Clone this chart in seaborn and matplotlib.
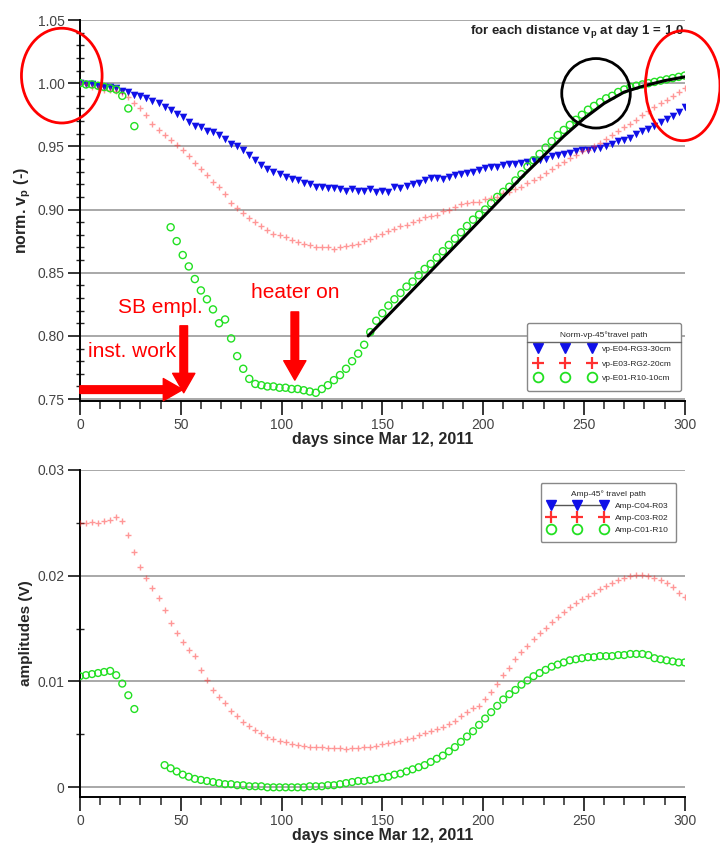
import numpy as np
import pandas as pd
import seaborn as sns
import matplotlib
matplotlib.use("Agg")
import matplotlib.pyplot as plt
from matplotlib.lines import Line2D
from matplotlib.patches import Ellipse
from matplotlib.ticker import MultipleLocator, FormatStrFormatter, FuncFormatter

nan = np.nan

# days sampled every 3 days (0 ... 300)
days = list(range(0, 301, 3))

# normalised vp, top panel
vp_e04 = [1.000, 0.999, 0.999, 0.998, 0.997, 0.997, 0.996, 0.994, 0.993, 0.991,
          0.990, 0.988, 0.986, 0.984, 0.981, 0.979, 0.976, 0.973, 0.969, 0.966,
          0.965, 0.962, 0.961, 0.959, 0.956, 0.952, 0.950, 0.947, 0.943, 0.939,
          0.935, 0.932, 0.930, 0.928, 0.926, 0.924, 0.923, 0.921, 0.920, 0.918,
          0.918, 0.917, 0.917, 0.916, 0.915, 0.916, 0.915, 0.915, 0.916, 0.914,
          0.915, 0.914, 0.918, 0.917, 0.919, 0.920, 0.921, 0.923, 0.925, 0.925,
          0.924, 0.926, 0.927, 0.928, 0.929, 0.930, 0.931, 0.933, 0.934, 0.934,
          0.935, 0.936, 0.936, 0.937, 0.938, 0.939, 0.939, 0.940, 0.942, 0.943,
          0.944, 0.945, 0.946, 0.947, 0.947, 0.948, 0.949, 0.950, 0.952, 0.954,
          0.955, 0.957, 0.960, 0.962, 0.964, 0.966, 0.969, 0.972, 0.974, 0.977,
          0.981]
vp_e03 = [1.000, 0.999, 0.997, 0.996, 0.995, 0.995, 0.994, 0.992, 0.989, 0.984,
          0.980, 0.975, 0.968, 0.963, 0.959, 0.955, 0.951, 0.947, 0.942, 0.937,
          0.932, 0.927, 0.922, 0.918, 0.912, 0.905, 0.901, 0.897, 0.893, 0.890,
          0.887, 0.884, 0.881, 0.880, 0.878, 0.876, 0.874, 0.873, 0.872, 0.870,
          0.870, 0.870, 0.869, 0.870, 0.871, 0.872, 0.873, 0.875, 0.877, 0.879,
          0.881, 0.883, 0.885, 0.887, 0.888, 0.890, 0.892, 0.894, 0.895, 0.896,
          0.899, 0.900, 0.902, 0.904, 0.905, 0.906, 0.906, 0.908, 0.909, 0.910,
          0.913, 0.914, 0.916, 0.918, 0.921, 0.923, 0.926, 0.929, 0.932, 0.935,
          0.938, 0.941, 0.943, 0.946, 0.947, 0.950, 0.953, 0.956, 0.959, 0.962,
          0.965, 0.968, 0.971, 0.975, 0.978, 0.981, 0.984, 0.987, 0.990, 0.993,
          0.996]
vp_e01 = [1.000, 0.999, 0.999, 0.998, 0.997, 0.996, 0.995, 0.990, 0.980, 0.966,
          nan, nan, nan, nan, nan, 0.886, 0.875, 0.864, 0.855, 0.845,
          0.836, 0.829, 0.821, 0.810, 0.813, 0.798, 0.784, 0.774, 0.766, 0.762,
          0.761, 0.760, 0.760, 0.759, 0.759, 0.758, 0.758, 0.757, 0.756, 0.755,
          0.758, 0.761, 0.765, 0.769, 0.774, 0.780, 0.786, 0.793, 0.803, 0.812,
          0.818, 0.824, 0.829, 0.834, 0.839, 0.843, 0.848, 0.853, 0.857, 0.862,
          0.867, 0.872, 0.877, 0.882, 0.887, 0.892, 0.896, 0.900, 0.905, 0.910,
          0.914, 0.918, 0.923, 0.928, 0.934, 0.939, 0.944, 0.949, 0.954, 0.959,
          0.963, 0.967, 0.971, 0.975, 0.979, 0.982, 0.985, 0.988, 0.990, 0.993,
          0.995, 0.997, 0.998, 0.999, 1.000, 1.001, 1.002, 1.003, 1.004, 1.005,
          1.006]

# fitted trend (black line)
fit_days = [143, 160, 180, 200, 220, 240, 250, 260, 270, 280, 290, 300]
fit_vals = [0.800, 0.828, 0.861, 0.894, 0.927, 0.958, 0.972, 0.984, 0.993, 0.998, 1.002, 1.005]

# amplitudes, bottom panel
amp_c03 = [0.0250, 0.0250, 0.0251, 0.0250, 0.0252, 0.0253, 0.0255, 0.0252, 0.0238, 0.0222,
           0.0208, 0.0198, 0.0188, 0.0179, 0.0168, 0.0155, 0.0146, 0.0137, 0.0130, 0.0124,
           0.0111, 0.0101, 0.0092, 0.0085, 0.0080, 0.0072, 0.0067, 0.0062, 0.0058, 0.0054,
           0.0051, 0.0048, 0.0046, 0.0044, 0.0043, 0.0041, 0.0040, 0.0039, 0.0038, 0.0038,
           0.0038, 0.0037, 0.0037, 0.0037, 0.0036, 0.0037, 0.0037, 0.0038, 0.0038, 0.0039,
           0.0041, 0.0042, 0.0043, 0.0044, 0.0046, 0.0047, 0.0049, 0.0051, 0.0053, 0.0055,
           0.0057, 0.0060, 0.0063, 0.0067, 0.0071, 0.0075, 0.0077, 0.0083, 0.0090, 0.0098,
           0.0106, 0.0113, 0.0121, 0.0128, 0.0134, 0.0140, 0.0146, 0.0151, 0.0156, 0.0161,
           0.0166, 0.0170, 0.0174, 0.0178, 0.0181, 0.0184, 0.0187, 0.0190, 0.0193, 0.0196,
           0.0198, 0.0200, 0.0201, 0.0201, 0.0200, 0.0198, 0.0196, 0.0193, 0.0189, 0.0184,
           0.0180]
amp_c01 = [0.0105, 0.0106, 0.0107, 0.0108, 0.0109, 0.0110, 0.0106, 0.0098, 0.0087, 0.0074,
           nan, nan, nan, nan, 0.0021, 0.0018, 0.0015, 0.0012, 0.0010, 0.0008,
           0.0007, 0.0006, 0.0005, 0.0004, 0.0003, 0.0003, 0.0002, 0.0002, 0.0001, 0.0001,
           0.0001, 0.0000, 0.0000, 0.0000, 0.0000, 0.0000, 0.0000, 0.0000, 0.0001, 0.0001,
           0.0001, 0.0002, 0.0002, 0.0003, 0.0004, 0.0005, 0.0006, 0.0006, 0.0007, 0.0008,
           0.0009, 0.0010, 0.0012, 0.0013, 0.0015, 0.0017, 0.0019, 0.0021, 0.0024, 0.0027,
           0.0030, 0.0034, 0.0038, 0.0043, 0.0048, 0.0053, 0.0059, 0.0065, 0.0071, 0.0077,
           0.0083, 0.0088, 0.0092, 0.0097, 0.0101, 0.0105, 0.0108, 0.0111, 0.0114, 0.0116,
           0.0118, 0.0120, 0.0121, 0.0122, 0.0123, 0.0123, 0.0124, 0.0124, 0.0124, 0.0125,
           0.0125, 0.0126, 0.0126, 0.0126, 0.0125, 0.0122, 0.0121, 0.0120, 0.0119, 0.0118,
           0.0118]

top = pd.DataFrame({"day": days, "E04": vp_e04, "E03": vp_e03, "E01": vp_e01})
bot = pd.DataFrame({"day": days, "C03": amp_c03, "C01": amp_c01})
fit = pd.DataFrame({"day": fit_days, "vp": fit_vals})

BLUE = "#1010e8"
RED = "#ff3030"
GREEN = "#22e022"

sns.set_style("white")
plt.rcParams["font.family"] = ["Liberation Sans", "DejaVu Sans"]
plt.rcParams["mathtext.fontset"] = "custom"
plt.rcParams["mathtext.bf"] = "Liberation Sans:bold"
plt.rcParams["mathtext.rm"] = "Liberation Sans"

fig = plt.figure(figsize=(7.2, 8.55), dpi=100)
ax1 = fig.add_axes([0.111, 0.531, 0.840, 0.4456])
ax2 = fig.add_axes([0.111, 0.068, 0.840, 0.3825])


def style_axis(ax, ymajor, yminor):
    for s in ["top", "right"]:
        ax.spines[s].set_visible(False)
    for s in ["left", "bottom"]:
        ax.spines[s].set_color("black")
        ax.spines[s].set_linewidth(1.4)
    ax.xaxis.set_major_locator(MultipleLocator(50))
    ax.xaxis.set_minor_locator(MultipleLocator(10))
    ax.yaxis.set_major_locator(MultipleLocator(ymajor))
    ax.yaxis.set_minor_locator(MultipleLocator(yminor))
    ax.tick_params(axis="x", which="both", bottom=True)
    ax.tick_params(axis="y", which="both", left=True)
    ax.tick_params(axis="x", which="major", direction="out", length=10, width=1.3,
                   labelsize=10, labelcolor="#444", pad=2)
    ax.tick_params(axis="x", which="minor", direction="out", length=6, width=1.1)
    ax.tick_params(axis="y", which="major", direction="out", length=9, width=1.3,
                   labelsize=10, labelcolor="#444", pad=2)
    ax.tick_params(axis="y", which="minor", direction="inout", length=6, width=1.0)
    ax.grid(axis="y", which="major", color="#999999", linewidth=1.2)
    ax.set_axisbelow(True)
    ax.set_xlim(0, 300)


# ---- top panel ----
sns.scatterplot(data=top, x="day", y="E04", marker="v", color=BLUE, s=30,
                linewidth=0, ax=ax1, zorder=3)
sns.scatterplot(data=top, x="day", y="E03", marker="+", color=RED, s=22,
                linewidth=1.0, alpha=0.5, ax=ax1, zorder=3)
sns.scatterplot(data=top, x="day", y="E01", marker="o", facecolor="none",
                edgecolor=GREEN, s=26, linewidth=1.0, ax=ax1, zorder=3)
sns.lineplot(data=fit, x="day", y="vp", color="black", linewidth=2.2, ax=ax1, zorder=4)

style_axis(ax1, 0.05, 0.01)
ax1.set_ylim(0.7485, 1.05)
ax1.yaxis.set_major_formatter(FormatStrFormatter("%.2f"))
ax1.set_xlabel("days since Mar 12, 2011", fontsize=11.5, fontweight="bold", labelpad=0)
ax1.set_ylabel(r"norm. v$_\mathbf{p}$ (-)", fontsize=11.5, fontweight="bold", labelpad=3)

ax1.text(300, 1.041, r"for each distance v$_\mathbf{p}$ at day 1 = 1.0", ha="right",
         va="center", fontsize=9.5, fontweight="bold", color="#222")

# hand-drawn marks
for (cx, cy, w, h, c) in [(-9, 1.006, 40, 0.075, "red"),
                          (299, 0.998, 37, 0.087, "red"),
                          (256, 0.992, 34, 0.055, "black")]:
    ax1.add_patch(Ellipse((cx, cy), w, h, fill=False, edgecolor=c, linewidth=2,
                          clip_on=False, zorder=6))

arrow = dict(facecolor="red", edgecolor="red", width=5.5, headwidth=16, headlength=14)
ax1.annotate("", xy=(51, 0.7575), xytext=(0, 0.7575), arrowprops=arrow,
             annotation_clip=False, zorder=6)
ax1.annotate("", xy=(51.5, 0.755), xytext=(51.5, 0.808), arrowprops=arrow, zorder=6)
ax1.annotate("", xy=(106.6, 0.765), xytext=(106.6, 0.819), arrowprops=arrow, zorder=6)
ax1.text(40, 0.8225, "SB empl.", color="red", fontsize=15, ha="center", va="center")
ax1.text(26, 0.7875, "inst. work", color="red", fontsize=15, ha="center", va="center")
ax1.text(106.6, 0.834, "heater on", color="red", fontsize=15, ha="center", va="center")

h_top = [Line2D([], [], marker="v", color=BLUE, linestyle="none", markersize=7),
         Line2D([], [], marker="+", color=RED, linestyle="none", markersize=8, mew=1.6),
         Line2D([], [], marker="o", markerfacecolor="none", markeredgecolor=GREEN,
                linestyle="none", markersize=7, mew=1.3)]
leg1 = ax1.legend(h_top, ["vp-E04-RG3-30cm", "vp-E03-RG2-20cm", "vp-E01-R10-10cm"],
                  title="Norm-vp-45°travel path", numpoints=3, loc="lower right",
                  bbox_to_anchor=(1.0, 0.016), fontsize=6, title_fontsize=6,
                  frameon=True, edgecolor="#888", framealpha=1, handlelength=7,
                  handletextpad=1.0, borderpad=1.0, labelspacing=0.8)

# ---- bottom panel ----
sns.scatterplot(data=bot, x="day", y="C03", marker="+", color=RED, s=20,
                linewidth=1.0, alpha=0.5, ax=ax2, zorder=3)
sns.scatterplot(data=bot, x="day", y="C01", marker="o", facecolor="none",
                edgecolor=GREEN, s=24, linewidth=1.0, ax=ax2, zorder=3)

style_axis(ax2, 0.01, 0.005)
ax2.set_ylim(-0.0009, 0.03)
ax2.yaxis.set_major_formatter(FuncFormatter(
    lambda v, p: "0" if abs(v) < 1e-9 else f"{v:.2f}"))
ax2.set_xlabel("days since Mar 12, 2011", fontsize=11.5, fontweight="bold", labelpad=0)
ax2.set_ylabel("amplitudes (V)", fontsize=11, fontweight="bold", labelpad=3)

h_bot = [Line2D([], [], marker="v", color="#555", markerfacecolor=BLUE,
                markeredgecolor=BLUE, linestyle="-", linewidth=1, markersize=7),
         Line2D([], [], marker="+", color=RED, linestyle="none", markersize=8, mew=1.6),
         Line2D([], [], marker="o", markerfacecolor="none", markeredgecolor=GREEN,
                linestyle="none", markersize=7, mew=1.3)]
ax2.legend(h_bot, ["Amp-C04-R03", "Amp-C03-R02", "Amp-C01-R10"],
           title="Amp-45° travel path", numpoints=3, loc="upper right",
           bbox_to_anchor=(0.993, 0.972), fontsize=6, title_fontsize=6,
           frameon=True, edgecolor="#888", framealpha=1, handlelength=7,
           handletextpad=1.0, borderpad=0.9, labelspacing=0.5)

# separator line under the title of the upper legend
fig.canvas.draw()
lb = leg1.get_window_extent()
tb = leg1.get_title().get_window_extent()
ysep = tb.y0 - 3
fig.add_artist(Line2D([lb.x0, lb.x1], [ysep, ysep], transform=None,
                      color="#666", linewidth=1))

fig.savefig("out.png", dpi=100)
